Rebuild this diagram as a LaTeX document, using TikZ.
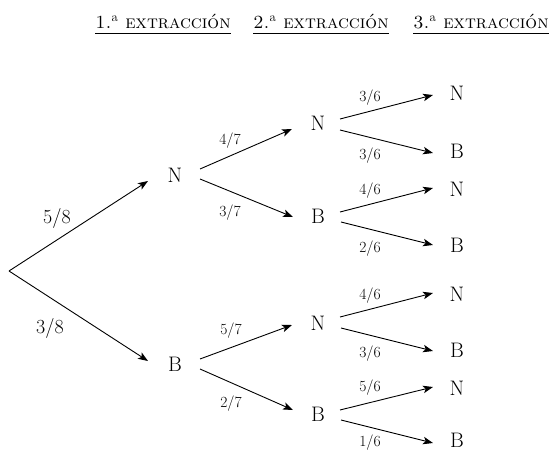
\documentclass[tikz,border=0pt]{standalone}
\usetikzlibrary{arrows.meta}
\begin{document}
\begin{tikzpicture}[x=1pt,y=-1pt,
  arr/.style={-{Stealth[length=10pt,width=7.5pt,inset=2.5pt]}, line width=0.9pt},
  lett/.style={inner sep=0pt, font=\fontsize{21}{24}\selectfont},
  pbig/.style={inner sep=0pt, font=\fontsize{20}{24}\selectfont},
  psmall/.style={inner sep=0pt, font=\fontsize{15.5}{18}\selectfont},
  head/.style={inner sep=0pt, anchor=base, font=\fontsize{18.5}{21}\selectfont\scshape},
  uline/.style={line width=0.7pt}]
\useasboundingbox (0,0) rectangle (554,450);
% headers
\node[head] (h1) at (163,28) {1.\textsuperscript{\normalfont a} extracción};
\node[head] (h2) at (321,28) {2.\textsuperscript{\normalfont a} extracción};
\node[head] (h3) at (481,28) {3.\textsuperscript{\normalfont a} extracción};
\foreach \h in {h1,h2,h3}{
  \draw[uline] ([yshift=-5pt]\h.south west) -- ([yshift=-5pt]\h.south east);
}
% nodes
\coordinate (r) at (9,271);
\node[lett] (n1) at (175,175) {N};
\node[lett] (b1) at (175,364) {B};
\node[lett] (nn) at (318,123.5) {N};
\node[lett] (nb) at (318,216) {B};
\node[lett] (bn) at (318,323) {N};
\node[lett] (bb) at (318,414.5) {B};
\node[lett] (nnn) at (457,93.5) {N};
\node[lett] (nnb) at (457,151.5) {B};
\node[lett] (nbn) at (457,189) {N};
\node[lett] (nbb) at (457,245) {B};
\node[lett] (bnn) at (457,294) {N};
\node[lett] (bnb) at (457,350) {B};
\node[lett] (bbn) at (457,388) {N};
\node[lett] (bbb) at (457,440) {B};
% connectors
\draw[arr] (r) -- ([shift={(-27,6)}]n1.center);
\draw[arr] (r) -- ([shift={(-27,-3)}]b1.center);
\draw[arr] ([shift={(25,-6)}]n1.center) -- ([shift={(-26,5.5)}]nn.center);
\draw[arr] ([shift={(25,4)}]n1.center) -- ([shift={(-25,1)}]nb.center);
\draw[arr] ([shift={(25,-5)}]b1.center) -- ([shift={(-26,2)}]bn.center);
\draw[arr] ([shift={(25,5)}]b1.center) -- ([shift={(-25,-4.5)}]bb.center);
\draw[arr] ([shift={(22,-4.5)}]nn.center) -- ([shift={(-24,1.5)}]nnn.center);
\draw[arr] ([shift={(22,6.5)}]nn.center) -- ([shift={(-24,1.5)}]nnb.center);
\draw[arr] ([shift={(22,-4)}]nb.center) -- ([shift={(-24,-1)}]nbn.center);
\draw[arr] ([shift={(23,6)}]nb.center) -- ([shift={(-24,0)}]nbb.center);
\draw[arr] ([shift={(22,-6)}]bn.center) -- ([shift={(-24,-1)}]bnn.center);
\draw[arr] ([shift={(23,5)}]bn.center) -- ([shift={(-24,1)}]bnb.center);
\draw[arr] ([shift={(22,-4.5)}]bb.center) -- ([shift={(-24,-1)}]bbn.center);
\draw[arr] ([shift={(23,5.5)}]bb.center) -- ([shift={(-24,3)}]bbb.center);
% labels
\node[pbig] (l58) at (57,218) {5/8};
\node[pbig] (l38) at (50,328) {3/8};
\node[psmall] (l47) at (230,141) {4/7};
\node[psmall] (l37) at (230,213) {3/7};
\node[psmall] (l57) at (231,331) {5/7};
\node[psmall] (l27) at (231,404) {2/7};
\node[psmall] (l36a) at (370,98) {3/6};
\node[psmall] (l36b) at (370,156) {3/6};
\node[psmall] (l46a) at (370,191) {4/6};
\node[psmall] (l26) at (370,248.5) {2/6};
\node[psmall] (l46b) at (370,296) {4/6};
\node[psmall] (l36c) at (370,354) {3/6};
\node[psmall] (l56) at (370,388) {5/6};
\node[psmall] (l16) at (370,443) {1/6};
\end{tikzpicture}
\end{document}
